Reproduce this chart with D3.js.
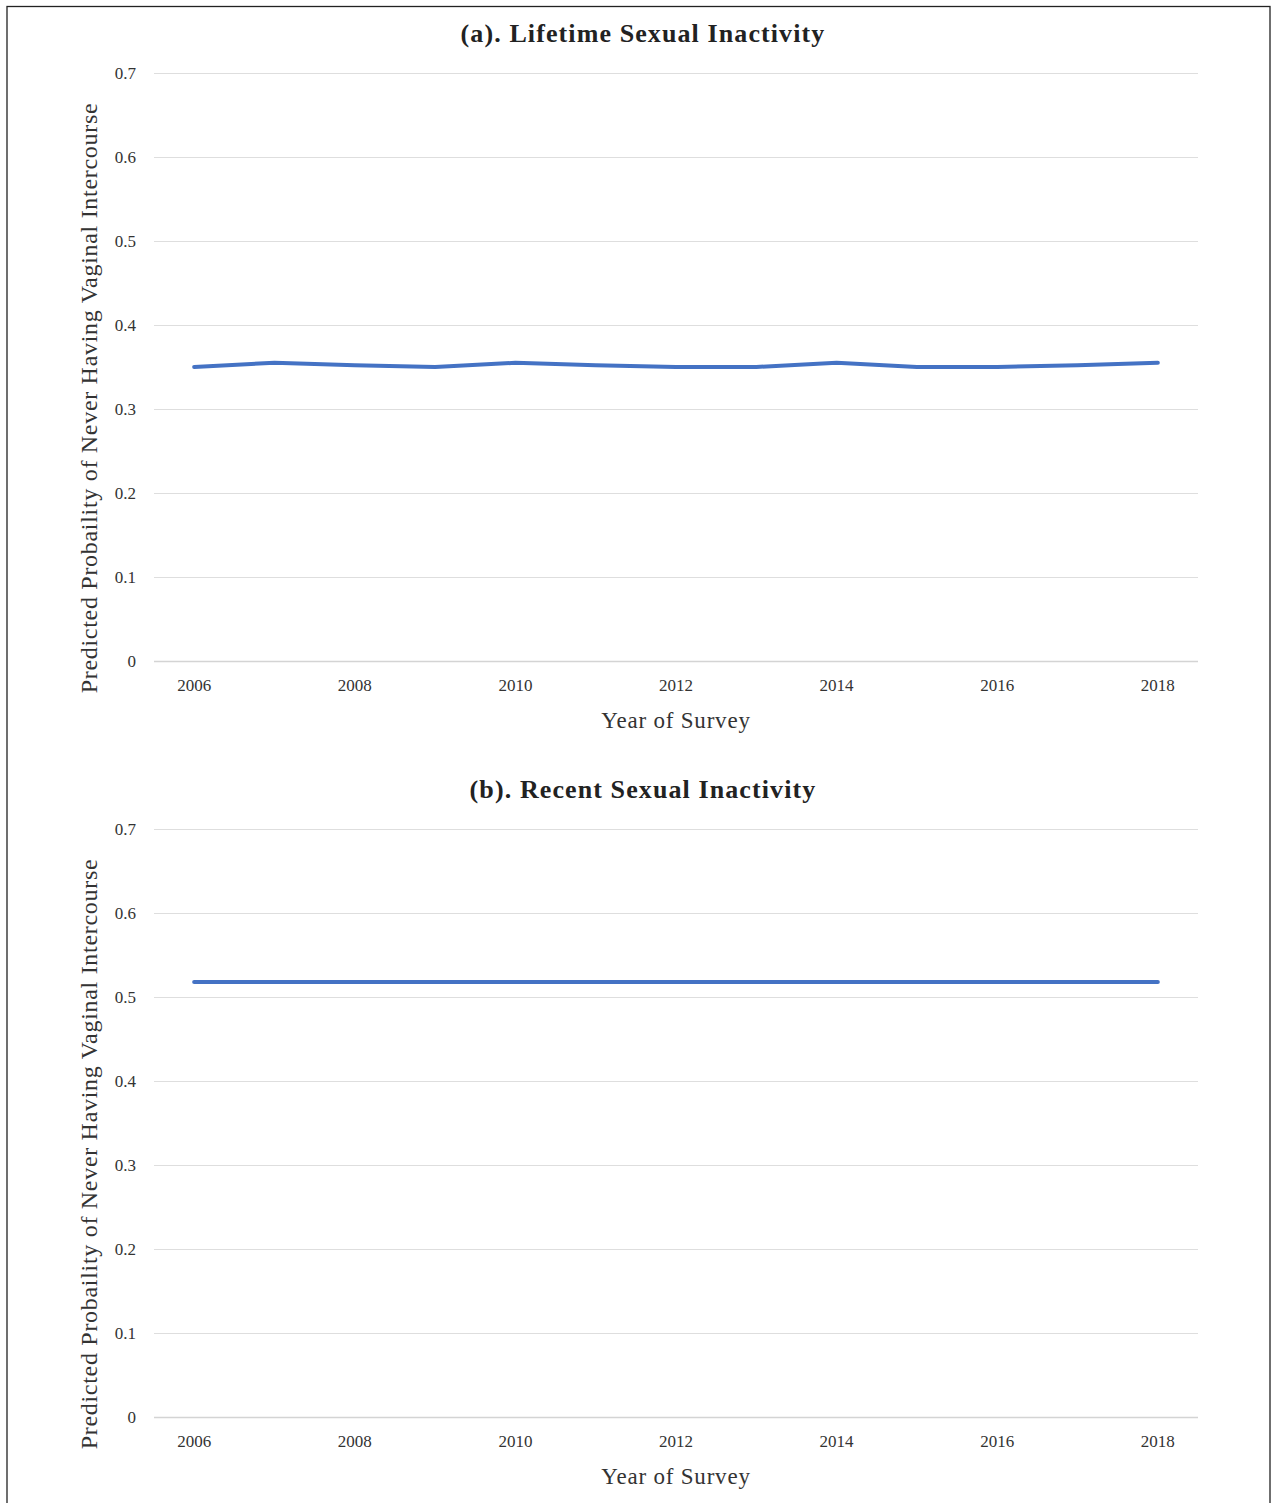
<!DOCTYPE html>
<html>
<head>
<meta charset="utf-8">
<script src="https://cdn.jsdelivr.net/npm/d3@7"></script>
<style>
  body { margin: 0; background: #fff; }
  svg text { font-family: "Liberation Serif", "DejaVu Serif", serif; }
</style>
</head>
<body>
<div id="chart"></div>
<script>
const years = ["2006", "2007", "2008", "2009", "2010", "2011", "2012", "2013", "2014", "2015", "2016", "2017", "2018"];
const xTickYears = ["2006", "2008", "2010", "2012", "2014", "2016", "2018"];
const yTicks = [0, 0.1, 0.2, 0.3, 0.4, 0.5, 0.6, 0.7];

// panel (a)
const lifetimeValues = [0.350, 0.355, 0.352, 0.350, 0.355, 0.352, 0.350, 0.350, 0.355, 0.350, 0.350, 0.352, 0.355];
// panel (b)
const recentValues = [0.518, 0.518, 0.518, 0.518, 0.518, 0.518, 0.518, 0.518, 0.518, 0.518, 0.518, 0.518, 0.518];

const titles = ["(a). Lifetime Sexual Inactivity", "(b). Recent Sexual Inactivity"];
const yLabel = "Predicted Probaility of Never Having Vaginal Intercourse";
const xLabel = "Year of Survey";

const W = 1273, H = 1503;

let svg = d3.select("#chart").append("svg")
  .attr("width", W)
  .attr("height", H);

// outer frame
svg.append("rect")
  .attr("x", 7).attr("y", 6.5)
  .attr("width", 1263).attr("height", 1510)
  .attr("fill", "none")
  .attr("stroke", "#222")
  .attr("stroke-width", 1.3);

function drawPanel(top, title, values) {
  let margin = { left: 154, top: top };
  let width = 1044;
  let height = 588;

  let x = d3.scaleBand().domain(years).range([0, width]).padding(0);
  let y = d3.scaleLinear().domain([0, 0.7]).range([height, 0]);

  let g = svg.append("g")
    .attr("transform", "translate(" + margin.left + "," + margin.top + ")");

  // gridlines
  g.append("g")
    .selectAll("line")
    .data(yTicks)
    .join("line")
    .attr("x1", 0).attr("x2", width)
    .attr("y1", d => Math.round(y(d)) + 0.5)
    .attr("y2", d => Math.round(y(d)) + 0.5)
    .attr("stroke", d => d === 0 ? "#d4d4d4" : "#dedede")
    .attr("stroke-width", d => d === 0 ? 1.5 : 1);

  let yAxis = d3.axisLeft(y)
    .tickValues(yTicks)
    .tickSize(0)
    .tickPadding(18)
    .tickFormat(d => d === 0 ? "0" : d3.format(".1f")(d));

  let yG = g.append("g").call(yAxis);
  yG.select(".domain").remove();
  yG.selectAll("text").attr("font-size", 17).attr("fill", "#333");

  let xAxis = d3.axisBottom(x)
    .tickValues(xTickYears)
    .tickSize(0)
    .tickPadding(18);

  let xG = g.append("g").attr("transform", "translate(0," + height + ")").call(xAxis);
  xG.select(".domain").remove();
  xG.selectAll("text").attr("font-size", 17).attr("fill", "#333");

  let line = d3.line()
    .x((d, i) => x(years[i]) + x.bandwidth() / 2)
    .y(d => y(d));

  g.append("path")
    .datum(values)
    .attr("d", line)
    .attr("fill", "none")
    .attr("stroke", "#4472c4")
    .attr("stroke-width", 4)
    .attr("stroke-linejoin", "round")
    .attr("stroke-linecap", "round");

  // title
  svg.append("text")
    .attr("x", 643).attr("y", top - 31)
    .attr("text-anchor", "middle")
    .attr("font-size", 26)
    .attr("font-weight", "bold")
    .attr("letter-spacing", 1.1)
    .attr("fill", "#222")
    .text(title);

  // x label
  svg.append("text")
    .attr("x", 676).attr("y", top + height + 67)
    .attr("text-anchor", "middle")
    .attr("font-size", 23)
    .attr("letter-spacing", 0.8)
    .attr("fill", "#333")
    .text(xLabel);

  // y label
  svg.append("text")
    .attr("transform", "translate(97," + (top + height / 2 + 31) + ") rotate(-90)")
    .attr("text-anchor", "middle")
    .attr("font-size", 24)
    .attr("letter-spacing", 0.7)
    .attr("fill", "#333")
    .text(yLabel);
}

drawPanel(73, titles[0], lifetimeValues);
drawPanel(829, titles[1], recentValues);
</script>
</body>
</html>
